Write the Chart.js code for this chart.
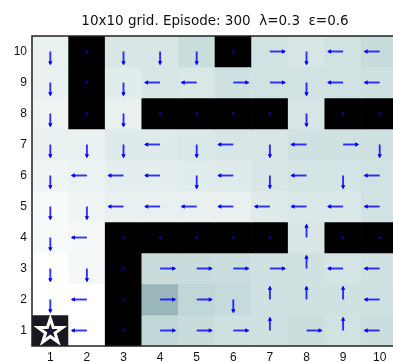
<!DOCTYPE html>
<html>
<head>
<meta charset="utf-8">
<script src="https://cdn.jsdelivr.net/npm/chart.js@4.4.1/dist/chart.umd.min.js"></script>
<style>
  html, body { margin: 0; padding: 0; background: #fff; overflow: hidden; }
  #wrap { width: 400px; height: 362px; }
</style>
</head>
<body>
<div id="wrap"><canvas id="grid" width="400" height="362"></canvas></div>
<script>
// Grid world: 10 columns x 10 rows, row 10 at the top.
const columns = [1, 2, 3, 4, 5, 6, 7, 8, 9, 10];
const rows = [10, 9, 8, 7, 6, 5, 4, 3, 2, 1];
const titleText = '10x10 grid. Episode: 300  \u03bb=0.3  \u03b5=0.6';

// Normalised state values (colour index), listed top row first; null = wall.
const stateValues = [
  [0.933, null, 0.888, 0.888, 0.852, null, 0.870, 0.888, 0.870, 0.843],
  [0.933, null, 0.915, 0.888, 0.893, 0.861, 0.870, 0.870, 0.870, 0.861],
  [0.951, null, 0.933, null, null, null, null, 0.888, null, null],
  [0.933, 0.933, 0.910, 0.910, 0.897, 0.888, 0.888, 0.866, 0.866, 0.861],
  [0.955, 0.942, 0.924, 0.924, 0.915, 0.910, 0.888, 0.879, 0.879, 0.870],
  [0.978, 0.955, 0.933, 0.933, 0.933, 0.933, 0.910, 0.897, 0.897, 0.870],
  [0.978, 0.973, null, null, null, null, null, 0.888, null, null],
  [1.000, 0.969, null, 0.843, 0.843, 0.852, 0.866, 0.866, 0.879, 0.866],
  [1.000, 1.000, null, 0.695, 0.821, 0.834, 0.866, 0.866, 0.866, 0.861],
  [0.110, 1.000, null, 0.821, 0.843, 0.866, 0.866, 0.852, 0.870, 0.852]
];

// Greedy policy per cell: U/D/L/R, '.' = no move (wall), 'G' = goal.
const policy = [
  'D.DDD.RDLL',
  'D.DLLRRDLL',
  'D.D....D..',
  'DDDLDLDLRD',
  'DLLLDLDLDL',
  'DDLLLLLLLL',
  'DL.....U..',
  'DD.RRRRULL',
  'DL.RRDUUUL',
  'GL.RRRURUL'
];

// Bone colormap: (7 * gray + reversed hot) / 8
function ramp(v, a, b) { return Math.min(1, Math.max(0, (v - a) / (b - a))); }
function bone(v) {
  const hr = ramp(v, 0, 0.375), hg = ramp(v, 0.375, 0.75), hb = ramp(v, 0.75, 1);
  const r = (7 * v + hb) / 8, g = (7 * v + hg) / 8, b = (7 * v + hr) / 8;
  return 'rgb(' + Math.round(r * 255) + ',' + Math.round(g * 255) + ',' + Math.round(b * 255) + ')';
}

const datasets = rows.map((row, ri) => ({
  label: 'row ' + row,
  data: columns.map(() => [row - 0.5, row + 0.5]),
  backgroundColor: stateValues[ri].map(v => v === null ? '#000000' : bone(v)),
  borderWidth: 0,
  barPercentage: 1,
  categoryPercentage: 1,
  grouped: false
}));

const arrowDirs = { U: [0, 1], D: [0, -1], L: [-1, 0], R: [1, 0] };
const arrowLen = 0.41;

const overlay = {
  id: 'overlay',
  afterDatasetsDraw(chart) {
    const ctx = chart.ctx, xs = chart.scales.x, ys = chart.scales.y, area = chart.chartArea;
    ctx.save();
    ctx.beginPath();
    ctx.rect(area.left, area.top, area.right - area.left, area.bottom - area.top);
    ctx.clip();
    rows.forEach((row, ri) => {
      columns.forEach((col, ci) => {
        const ch = policy[ri][ci];
        const cx = xs.getPixelForValue(ci), cy = ys.getPixelForValue(row);
        if (ch === 'G') {
          // goal marker: white-edged star
          const R = 13, r = R * 0.382;
          ctx.beginPath();
          for (let k = 0; k < 10; k++) {
            const rad = k % 2 === 0 ? R : r;
            const a = -Math.PI / 2 + k * Math.PI / 5;
            const px = cx + rad * Math.cos(a), py = cy + 1 + rad * Math.sin(a);
            k === 0 ? ctx.moveTo(px, py) : ctx.lineTo(px, py);
          }
          ctx.closePath();
          ctx.fillStyle = bone(stateValues[ri][ci]);
          ctx.fill();
          ctx.lineWidth = 3;
          ctx.lineJoin = 'miter';
          ctx.strokeStyle = '#ffffff';
          ctx.stroke();
        }
        if (ch === '.' || ch === 'G') {
          ctx.fillStyle = '#0000ff';
          ctx.fillRect(cx - 1, cy - 1, 2, 2);
          return;
        }
        const d = arrowDirs[ch];
        const tx = xs.getPixelForValue(ci + d[0] * arrowLen);
        const ty = ys.getPixelForValue(row + d[1] * arrowLen);
        ctx.strokeStyle = 'rgba(0,0,255,0.8)';
        ctx.lineWidth = 1.9;
        ctx.lineCap = 'butt';
        ctx.beginPath();
        ctx.moveTo(cx, cy);
        ctx.lineTo(tx, ty);
        ctx.stroke();
        // arrow head
        const ux = Math.sign(tx - cx), uy = Math.sign(ty - cy);
        ctx.fillStyle = '#0000ff';
        ctx.beginPath();
        ctx.moveTo(tx + ux * 1, ty + uy * 1);
        ctx.lineTo(tx - ux * 3 - uy * 2.2, ty - uy * 3 + ux * 2.2);
        ctx.lineTo(tx - ux * 3 + uy * 2.2, ty - uy * 3 - ux * 2.2);
        ctx.closePath();
        ctx.fill();
      });
    });
    ctx.restore();
    // axes box
    ctx.save();
    ctx.strokeStyle = '#222222';
    ctx.lineWidth = 1.5;
    ctx.strokeRect(area.left, area.top, area.right - area.left, area.bottom - area.top);
    // title
    ctx.fillStyle = '#111111';
    ctx.font = '13.5px "DejaVu Sans"';
    ctx.textAlign = 'center';
    ctx.textBaseline = 'alphabetic';
    ctx.fillText(titleText, (area.left + area.right) / 2, 25);
    ctx.restore();
  }
};

new Chart(document.getElementById('grid'), {
  type: 'bar',
  data: { labels: columns.map(String), datasets },
  options: {
    responsive: false,
    animation: false,
    layout: { padding: { top: 36, right: 2, left: 0, bottom: 0 } },
    plugins: { legend: { display: false }, tooltip: { enabled: false }, title: { display: false } },
    scales: {
      x: {
        type: 'category',
        offset: true,
        grid: { display: false, drawTicks: false },
        border: { display: false },
        ticks: { color: '#111', font: { family: '"Liberation Sans", Arial', size: 12 }, padding: 4, maxRotation: 0 },
        afterFit(s) { s.height = 16; }
      },
      y: {
        type: 'linear',
        min: 0.5,
        max: 10.5,
        grid: { display: false, drawTicks: false },
        border: { display: false },
        ticks: { color: '#111', font: { family: '"Liberation Sans", Arial', size: 12 }, padding: 5 },
        afterBuildTicks(s) { s.ticks = rows.slice().reverse().map(v => ({ value: v })); },
        afterFit(s) { s.width = 32; }
      }
    }
  },
  plugins: [overlay]
});
</script>
</body>
</html>
